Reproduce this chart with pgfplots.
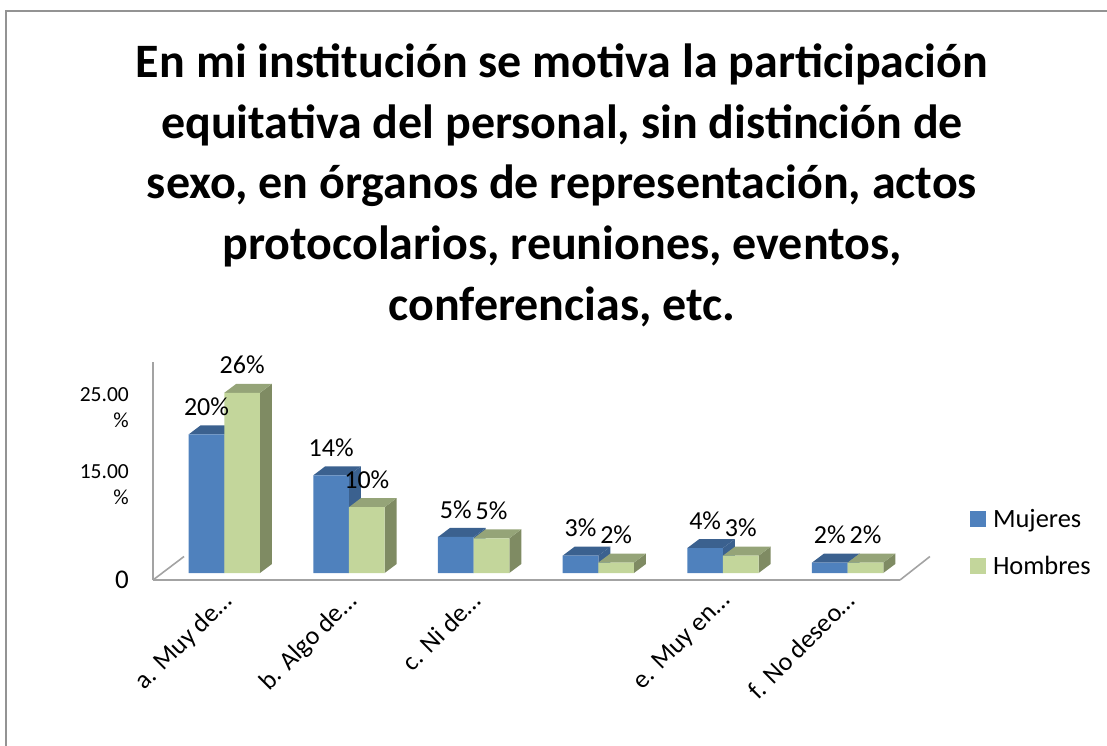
\documentclass[border=0pt]{standalone}
\usepackage{fontspec}
\setmainfont{Carlito}
\usepackage{pgfplots}
\usepackage{pgfplotstable}
\pgfplotsset{compat=1.18}
\definecolor{mfront}{HTML}{4F81BD}
\definecolor{mface}{HTML}{3B618F}
\definecolor{hfront}{HTML}{C3D69B}
\definecolor{htop}{HTML}{95A478}
\definecolor{hside}{HTML}{7F8B63}
\definecolor{axgray}{HTML}{A3A3A3}
\definecolor{bordergray}{HTML}{939393}
\pgfplotstableread{
pos muj hom dm dh
0 20 26 -17.83 17.83
1 14.1 9.5 -17.83 17.83
2 5.2 5 -17.83 17.83
3 2.5 1.5 -17.83 17.83
4 3.6 2.5 -17.83 17.83
5 1.5 1.5 -17.83 17.83
}\datos
\pgfplotsset{
 face/.style={fill=#1,draw=none,forget plot},
 lab/.style={ybar,bar width=35.67pt,draw=none,fill=none,forget plot,
  nodes near coords={\pgfmathprintnumber[fixed,precision=0,/pgf/number format/assume math mode=true]{\pgfplotspointmeta}\%},
  visualization depends on={\thisrow{#1} \as \dxx},
  every node near coord/.style={font=\fontsize{26}{26}\selectfont,text=black,inner sep=0pt,anchor=south,yshift=18.5pt,xshift=\dxx pt}},
}
\begin{document}
\begin{tikzpicture}
\path[use as bounding box] (-153pt,-166pt) rectangle (954pt,580pt);
\draw[bordergray,line width=2pt] (-146.5pt,-166pt) -- (-146.5pt,568.5pt) -- (954pt,568.5pt);
\begin{axis}[
 at={(0,0)},anchor=south west,
 scale only axis,width=747pt,height=218.3pt,
 xmin=-0.572,xmax=5.42,ymin=-1.01,ymax=30.49,
 clip=false,
 axis x line=bottom,axis y line=left,
 axis line style={-,draw=axgray,line width=1.8pt},
 major tick length=0pt,
 xtick={0,1,2,3,4,5},
 xticklabels={a. Muy de…,b. Algo de…,c. Ni de…,{},e. Muy en…,f. No deseo…},
 xticklabel style={font=\fontsize{26}{28}\selectfont,rotate=45,anchor=north east,xshift=-9.5pt,yshift=-4pt,inner sep=0pt},
 ytick={-1.01,12.7,23.8},
 yticklabels={{\fontsize{27}{27}\selectfont 0},{15.00\\\%},{25.00\\\%}},
 yticklabel style={font=\fontsize{21.5}{26}\selectfont,align=right,xshift=-24pt,inner sep=0pt},
 title={En mi institución se motiva la participación\\equitativa del personal, sin distinción de\\sexo, en órganos de representación, actos\\protocolarios, reuniones, eventos,\\conferencias, etc.},
 title style={at={(axis description cs:0.5475,1.0)},anchor=south,yshift=28.5pt,align=center,
  font=\bfseries\fontsize{48}{60.8}\selectfont,inner sep=0pt},
 legend style={at={(axis cs:5.98,9.2)},anchor=north west,draw=none,fill=none,
  font=\fontsize{26.4}{26}\selectfont,row sep=27pt,inner sep=0pt,
  nodes={inner sep=0pt,anchor=west}},
 legend image code/.code={\fill[#1] (0pt,-8pt) rectangle (16pt,8pt);\path (23pt,0pt);},
 legend cell align=left,
]
% floor diagonals
\addplot[axgray,line width=1.6pt,forget plot] coordinates {(-0.572,-1.01)(-0.323,2.38)};
\addplot[axgray,line width=1.6pt,forget plot] coordinates {(5.42,-1.01)(5.66,2.38)};
% Mujeres depth faces
\addplot[face=mface] coordinates {(-.286,20)(-.19,21.3)(.096,21.3)(0,20)} -- cycle;
\addplot[face=mface] coordinates {(0,0)(.096,1.3)(.096,21.3)(0,20)} -- cycle;
\addplot[face=mface] coordinates {(.714,14.1)(.81,15.4)(1.096,15.4)(1,14.1)} -- cycle;
\addplot[face=mface] coordinates {(1,0)(1.096,1.3)(1.096,15.4)(1,14.1)} -- cycle;
\addplot[face=mface] coordinates {(1.714,5.2)(1.81,6.5)(2.096,6.5)(2,5.2)} -- cycle;
\addplot[face=mface] coordinates {(2,0)(2.096,1.3)(2.096,6.5)(2,5.2)} -- cycle;
\addplot[face=mface] coordinates {(2.714,2.5)(2.81,3.8)(3.096,3.8)(3,2.5)} -- cycle;
\addplot[face=mface] coordinates {(3,0)(3.096,1.3)(3.096,3.8)(3,2.5)} -- cycle;
\addplot[face=mface] coordinates {(3.714,3.6)(3.81,4.9)(4.096,4.9)(4,3.6)} -- cycle;
\addplot[face=mface] coordinates {(4,0)(4.096,1.3)(4.096,4.9)(4,3.6)} -- cycle;
\addplot[face=mface] coordinates {(4.714,1.5)(4.81,2.8)(5.096,2.8)(5,1.5)} -- cycle;
\addplot[face=mface] coordinates {(5,0)(5.096,1.3)(5.096,2.8)(5,1.5)} -- cycle;
% Mujeres fronts
\addplot[ybar,bar width=35.67pt,bar shift=-17.83pt,fill=mfront,draw=none] table[x=pos,y=muj] {\datos};
\addlegendentry{Mujeres}
% Hombres depth faces
\addplot[face=hside] coordinates {(.286,0)(.382,1.3)(.382,27.3)(.286,26)} -- cycle;
\addplot[face=htop] coordinates {(0,26)(.096,27.3)(.382,27.3)(.286,26)} -- cycle;
\addplot[face=hside] coordinates {(1.286,0)(1.382,1.3)(1.382,10.8)(1.286,9.5)} -- cycle;
\addplot[face=htop] coordinates {(1,9.5)(1.096,10.8)(1.382,10.8)(1.286,9.5)} -- cycle;
\addplot[face=hside] coordinates {(2.286,0)(2.382,1.3)(2.382,6.3)(2.286,5)} -- cycle;
\addplot[face=htop] coordinates {(2,5)(2.096,6.3)(2.382,6.3)(2.286,5)} -- cycle;
\addplot[face=hside] coordinates {(3.286,0)(3.382,1.3)(3.382,2.8)(3.286,1.5)} -- cycle;
\addplot[face=htop] coordinates {(3,1.5)(3.096,2.8)(3.382,2.8)(3.286,1.5)} -- cycle;
\addplot[face=hside] coordinates {(4.286,0)(4.382,1.3)(4.382,3.8)(4.286,2.5)} -- cycle;
\addplot[face=htop] coordinates {(4,2.5)(4.096,3.8)(4.382,3.8)(4.286,2.5)} -- cycle;
\addplot[face=hside] coordinates {(5.286,0)(5.382,1.3)(5.382,2.8)(5.286,1.5)} -- cycle;
\addplot[face=htop] coordinates {(5,1.5)(5.096,2.8)(5.382,2.8)(5.286,1.5)} -- cycle;
% Hombres fronts
\addplot[ybar,bar width=35.67pt,bar shift=17.83pt,fill=hfront,draw=none] table[x=pos,y=hom] {\datos};
\addlegendentry{Hombres}
% data labels on top
\addplot[lab=dm] table[x=pos,y=muj] {\datos};
\addplot[lab=dh] table[x=pos,y=hom] {\datos};
\end{axis}
\end{tikzpicture}
\end{document}
